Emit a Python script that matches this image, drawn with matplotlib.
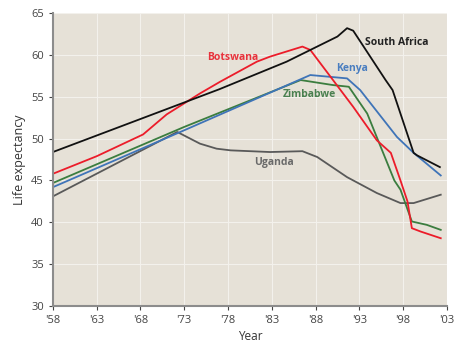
import matplotlib.pyplot as plt

plt.rcParams['font.family'] = ['Open Sans', 'DejaVu Sans']

# life expectancy by country (years)
sa_years = [1958, 1977, 1984.7, 1990.5, 1991.6, 1992.3, 1996, 1996.8, 1999.2, 1999.6, 2002.2]
sa_vals = [48.4, 55.9, 59.2, 62.2, 63.2, 62.9, 57.0, 55.8, 48.3, 48.0, 46.6]

bw_years = [1958, 1963, 1968.3, 1971, 1974.8, 1977.1, 1981.3, 1982.8, 1986.5, 1987.4,
            1992.3, 1995, 1996.6, 1997.7, 1998.5, 1999, 2000, 2002.3]
bw_vals = [45.8, 47.9, 50.5, 52.9, 55.4, 56.8, 59.2, 59.8, 61.0, 60.6,
           53.8, 49.8, 48.3, 45.0, 42.5, 39.3, 38.9, 38.1]

ke_years = [1958, 1973, 1987.4, 1991.6, 1993.1, 1997.3, 1999.2, 2002.3]
ke_vals = [44.2, 51.0, 57.6, 57.2, 55.8, 50.2, 48.3, 45.6]

zw_years = [1958, 1973, 1986.3, 1990, 1991.8, 1993.9, 1997, 1997.7, 1999, 2000.7, 2002.3]
zw_vals = [44.7, 51.4, 57.0, 56.4, 56.2, 53.0, 45.0, 43.9, 40.1, 39.7, 39.1]

ug_years = [1958, 1972.2, 1974.8, 1976.7, 1978.3, 1982.8, 1986.5, 1988.2, 1991.6, 1995,
            1997.7, 1999.2, 2002.3]
ug_vals = [43.1, 50.8, 49.4, 48.8, 48.6, 48.4, 48.5, 47.8, 45.4, 43.5,
           42.3, 42.3, 43.3]

xticks = [1958, 1963, 1968, 1973, 1978, 1983, 1988, 1993, 1998, 2003]
xlabels = ["'58", "'63", "'68", "'73", "'78", "'83", "'88", "'93", "'98", "'03"]

fig = plt.figure(figsize=(4.56, 3.45), dpi=100)
ax = fig.add_axes([0.116, 0.113, 0.864, 0.849])
ax.set_facecolor('#e6e1d7')

ax.plot(ug_years, ug_vals, color='#595959', lw=1.3)
ax.plot(zw_years, zw_vals, color='#3b7d3f', lw=1.3)
ax.plot(ke_years, ke_vals, color='#3f74b8', lw=1.3)
ax.plot(bw_years, bw_vals, color='#ec1c2a', lw=1.3)
ax.plot(sa_years, sa_vals, color='#111111', lw=1.3)

# country labels
ax.text(1993.6, 61.5, 'South Africa', color='#222222', fontsize=7.5, fontweight='bold', va='center')
ax.text(1975.6, 59.7, 'Botswana', color='#e8323c', fontsize=7.5, fontweight='bold', va='center')
ax.text(1990.3, 58.4, 'Kenya', color='#4a7ec0', fontsize=7.5, fontweight='bold', va='center')
ax.text(1984.2, 55.3, 'Zimbabwe', color='#4a8050', fontsize=7.5, fontweight='bold', va='center')
ax.text(1981.0, 47.1, 'Uganda', color='#6a6a6a', fontsize=7.5, fontweight='bold', va='center')

ax.set_xlim(1958, 2003)
ax.set_ylim(30, 65)
ax.set_xticks(xticks)
ax.set_xticklabels(xlabels)
ax.set_yticks(range(30, 66, 5))
ax.grid(True, color='#f3f1ec', lw=0.8)
ax.set_axisbelow(True)

for side in ['top', 'right']:
    ax.spines[side].set_visible(False)
for side in ['left', 'bottom']:
    ax.spines[side].set_color('#8c8c8c')
    ax.spines[side].set_linewidth(1.5)
ax.tick_params(colors='#444444', labelsize=8, length=3, width=0.8)

ax.set_xlabel('Year', fontsize=8.5, color='#333333', labelpad=3)
ax.set_ylabel('Life expectancy', fontsize=9, color='#333333', labelpad=4)

fig.savefig('out.png', dpi=100)
